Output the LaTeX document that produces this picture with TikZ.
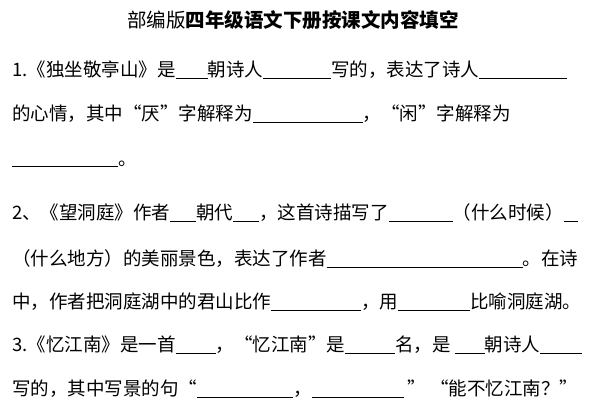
\documentclass[tikz,border=0pt]{standalone}
\usepackage{fontspec}
\setmainfont{Noto Sans CJK SC}
\newcommand{\blank}[1]{\underline{\hspace{#1pt}}}
\tikzset{
  textline/.style={anchor=west, inner sep=0pt, font=\fontsize{18.5}{18.5}\selectfont},
}
\begin{document}
\begin{tikzpicture}[x=1pt, y=-1pt]
  \useasboundingbox (0,0) rectangle (600,420);
  % Title
  \node[inner sep=0pt, font=\fontsize{19.5}{19.5}\selectfont] (title) at (293,20) {部编版\textbf{四年级语文下册按课文内容填空}};
  % Question 1
  \node[textline] (l1) at (12,70) {1.《独坐敬亭山》是\blank{32}朝诗人\blank{68}写的，表达了诗人\blank{88}};
  \node[textline] (l2) at (12,114) {的心情，其中“厌”字解释为\blank{110}，“闲”字解释为};
  \node[textline] (l3) at (12,164) {\blank{106}。};
  % Question 2
  \node[textline] (l4) at (12,213) {2、《望洞庭》作者\blank{26}朝代\blank{26}，这首诗描写了\blank{64}（什么时候）\blank{14}};
  \node[textline] (l5) at (12,259) {（什么地方）的美丽景色，表达了作者\blank{196}。在诗};
  \node[textline] (l6) at (12,302) {中，作者把洞庭湖中的君山比作\blank{90}，用\blank{72}比喻洞庭湖。};
  % Question 3
  \node[textline] (l7) at (12,345) {3.《忆江南》是一首\blank{40}，“忆江南”是\blank{50}名，是 \blank{30}朝诗人\blank{42}};
  \node[textline] (l8) at (12,389) {写的，其中写景的句“\blank{96}，\blank{92} ” “能不忆江南？”};
\end{tikzpicture}
\end{document}
